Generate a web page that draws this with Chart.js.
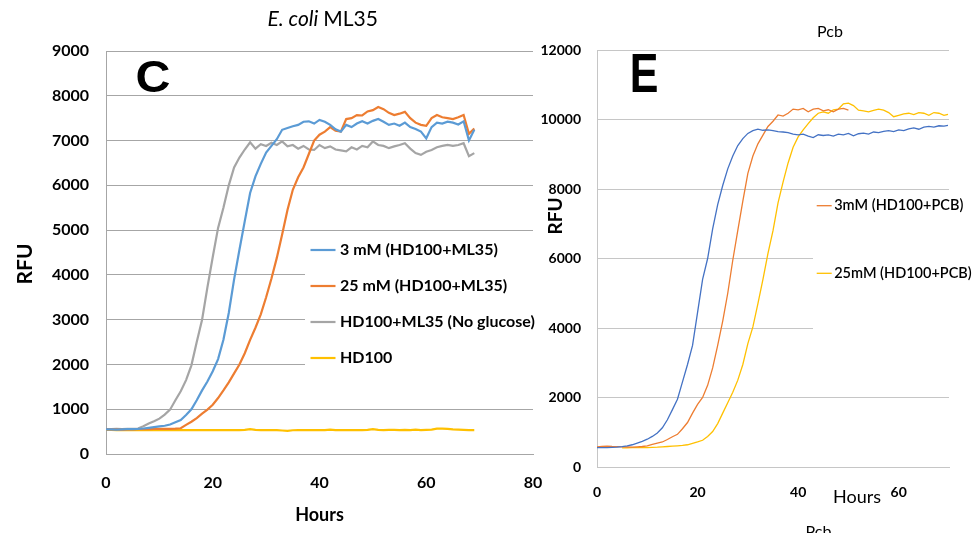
<!DOCTYPE html>
<html>
<head>
<meta charset="utf-8">
<script src="https://cdn.jsdelivr.net/npm/chart.js@4.4.1/dist/chart.umd.min.js"></script>
<style>
  html, body { margin: 0; padding: 0; background: #fff; }
  body { width: 975px; height: 533px; position: relative; overflow: hidden; }
  #ecoli { position: absolute; left: 0; top: 0; width: 562px; height: 533px; }
  #pcb { position: absolute; left: 530px; top: 0; width: 445px; height: 533px; }
</style>
</head>
<body>
<canvas id="ecoli" width="562" height="533"></canvas>
<canvas id="pcb" width="445" height="533"></canvas>
<script>
// ---- panel C : E. coli ML35 ----
const ecoliHours = [
  0, 1, 2, 3, 4, 5, 6, 7, 8, 9, 10, 11, 12, 13, 14, 15, 16, 17, 18, 19,
  20, 21, 22, 23, 24, 25, 26, 27, 28, 29, 30, 31, 32, 33, 34, 35, 36, 37, 38, 39,
  40, 41, 42, 43, 44, 45, 46, 47, 48, 49, 50, 51, 52, 53, 54, 55, 56, 57, 58, 59,
  60, 61, 62, 63, 64, 65, 66, 67, 68, 69
];
const ecoliLabels = ['3 mM (HD100+ML35)', '25 mM (HD100+ML35)', 'HD100+ML35 (No glucose)', 'HD100'];
const ecoli3mM = [
  550, 550, 545, 550, 555, 555, 560, 570, 585, 600,
  615, 630, 660, 710, 760, 870, 1000, 1200, 1420, 1620,
  1850, 2120, 2550, 3150, 3900, 4560, 5200, 5830, 6200, 6480,
  6730, 6880, 7030, 7240, 7280, 7320, 7350, 7420, 7430, 7380,
  7460, 7420, 7350, 7250, 7200, 7350, 7300, 7380, 7430, 7380,
  7440, 7480, 7420, 7350, 7380, 7330, 7400, 7300, 7260, 7200,
  7050, 7300, 7400, 7380, 7420, 7400, 7360, 7430, 7000, 7240
];
const ecoli25mM = [
  550, 550, 550, 545, 550, 550, 555, 555, 555, 560,
  560, 560, 560, 565, 575, 650, 720, 800, 900, 990,
  1100, 1250, 1420, 1600, 1800, 2000, 2250, 2550, 2820, 3120,
  3500, 3920, 4380, 4900, 5450, 5900, 6180, 6400, 6700, 7000,
  7130, 7200, 7300, 7220, 7200, 7480, 7500, 7570, 7560, 7650,
  7680, 7750, 7700, 7620, 7570, 7600, 7640, 7500, 7400, 7350,
  7330, 7500, 7570, 7520, 7500, 7480, 7520, 7570, 7150, 7270
];
const ecoliNoGlucose = [
  555, 555, 560, 555, 560, 560, 570, 620, 680, 730,
  790, 880, 990, 1200, 1400, 1650, 1980, 2500, 3000, 3720,
  4400, 5050, 5500, 6000, 6400, 6620, 6800, 6960, 6820, 6920,
  6880, 6950, 6900, 6980, 6870, 6900, 6820, 6880, 6800, 6790,
  6900, 6830, 6870, 6800, 6780, 6760, 6850, 6800, 6880, 6850,
  6980, 6900, 6880, 6830, 6870, 6900, 6940, 6820, 6720, 6680,
  6750, 6790, 6850, 6880, 6905, 6880, 6900, 6940, 6650, 6720
];
const ecoliHD100 = [
  540, 540, 535, 540, 535, 535, 535, 535, 540, 535,
  535, 535, 535, 535, 535, 535, 535, 535, 535, 535,
  535, 535, 535, 535, 535, 535, 540, 555, 540, 535,
  535, 535, 535, 525, 515, 530, 535, 535, 535, 535,
  535, 535, 545, 535, 535, 535, 535, 535, 535, 540,
  555, 540, 535, 540, 540, 535, 540, 535, 545, 535,
  540, 545, 565, 565, 560, 550, 545, 540, 535, 535
];
const ecoliXTicks = [0, 20, 40, 60, 80];
const ecoliYTicks = [0, 1000, 2000, 3000, 4000, 5000, 6000, 7000, 8000, 9000];

// ---- panel E : Pcb ----
const pcbHours = [
  0, 1, 2, 3, 4, 5, 6, 7, 8, 9, 10, 11, 12, 13, 14, 15, 16, 17, 18, 19,
  20, 21, 22, 23, 24, 25, 26, 27, 28, 29, 30, 31, 32, 33, 34, 35, 36, 37, 38, 39,
  40, 41, 42, 43, 44, 45, 46, 47, 48, 49, 50, 51, 52, 53, 54, 55, 56, 57, 58, 59,
  60, 61, 62, 63, 64, 65, 66, 67, 68, 69, 69.8
];
const pcbLabels = ['Pcb', '3mM (HD100+PCB)', '25mM (HD100+PCB)'];
const pcbControl = [
  560, 560, 560, 565, 570, 585, 610, 640, 690, 740,
  800, 880, 980, 1130, 1360, 1650, 1950, 2450, 2950, 3500,
  4450, 5400, 6000, 6850, 7550, 8100, 8580, 8950, 9250, 9450,
  9600, 9680, 9720, 9690, 9700, 9680, 9650, 9640, 9620, 9580,
  9560, 9580, 9520, 9480, 9560, 9540, 9560, 9520, 9580, 9560,
  9600, 9530, 9590, 9610, 9580, 9640, 9620, 9660, 9680, 9650,
  9700, 9680, 9730, 9760, 9720, 9780, 9800, 9780, 9820, 9810, 9830
];
const pcb3mM = [
  580, 590, 600, 590, 585, 580, 575, 570, 580, 590,
  610, 650, 690, 720, 790, 870, 940, 1100, 1280, 1550,
  1800, 2000, 2350, 2850, 3500, 4200, 5000, 5950, 6810, 7650,
  8450, 8950, 9300, 9550, 9800, 9950, 10130, 10100, 10180, 10300,
  10280, 10320, 10220, 10300, 10320, 10250, 10280, 10220, 10300, 10320,
  10270, null, null, null, null, null, null, null, null, null,
  null, null, null, null, null, null, null, null, null, null, null
];
const pcb25mM = [
  null, null, null, null, null, 550, 550, 555, 560, 560,
  560, 565, 570, 580, 590, 600, 610, 620, 640, 680,
  720, 770, 880, 1020, 1250, 1550, 1850, 2150, 2500, 2950,
  3550, 4030, 4700, 5400, 6150, 6800, 7600, 8200, 8750, 9200,
  9500, 9700, 9880, 10050, 10180, 10220, 10180, 10280, 10300, 10450,
  10470, 10400, 10270, 10250, 10220, 10260, 10300, 10270, 10200, 10080,
  10120, 10160, 10180, 10140, 10200, 10180, 10120, 10200, 10180, 10120, 10150
];
const pcbXTicks = [0, 20, 40, 60];
const pcbXMax = 70;
const pcbYTicks = [0, 2000, 4000, 6000, 8000, 10000, 12000];

Chart.defaults.font.family = 'Lato, "Liberation Sans", sans-serif';
Chart.defaults.color = '#000';

const pts = (xs, ys) => xs.map((x, i) => ({ x: x, y: ys[i] }));

// draws panel letters, titles, free-standing labels and the in-plot legend
function decor(cfg) {
  return {
    id: 'decor',
    beforeDatasetsDraw(chart) {
      const c = chart.ctx, b = cfg.box;
      c.save();
      c.fillStyle = '#fff';
      c.fillRect(b.x, b.y, b.w, b.h);
      c.restore();
    },
    afterDraw(chart) {
      const c = chart.ctx;
      cfg.texts.forEach(t => {
        c.save();
        c.translate(t.x, t.y);
        if (t.rot) c.rotate(t.rot);
        c.scale(t.sx || 1, t.sy || 1);
        c.fillStyle = '#000';
        c.textBaseline = t.base || 'middle';
        if (t.parts) {
          let w = 0;
          t.parts.forEach(p => { c.font = p[1]; w += c.measureText(p[0]).width; });
          let x = -w / 2;
          c.textAlign = 'left';
          t.parts.forEach(p => { c.font = p[1]; c.fillText(p[0], x, 0); x += c.measureText(p[0]).width; });
        } else {
          c.font = t.font;
          c.textAlign = 'center';
          c.fillText(t.text, 0, 0);
        }
        c.restore();
      });
      const L = cfg.legend;
      c.save();
      L.items.forEach((idx, k) => {
        const ds = chart.data.datasets[idx];
        const y = L.y + k * L.dy;
        c.strokeStyle = ds.borderColor;
        c.lineWidth = ds.borderWidth;
        c.beginPath();
        c.moveTo(L.x, y);
        c.lineTo(L.x + L.len, y);
        c.stroke();
        c.font = L.font;
        c.fillStyle = '#000';
        c.textAlign = 'left';
        c.textBaseline = 'middle';
        c.fillText(ds.label, L.x + L.len + L.gap, y);
      });
      c.restore();
    }
  };
}

function line(label, xs, ys, color, width) {
  return {
    label: label,
    data: pts(xs, ys),
    borderColor: color,
    backgroundColor: color,
    borderWidth: width,
    pointRadius: 0,
    tension: 0,
    fill: false
  };
}

const plain = { useGrouping: false };

new Chart(document.getElementById('ecoli'), {
  type: 'line',
  data: {
    datasets: [
      line(ecoliLabels[0], ecoliHours, ecoli3mM, '#5B9BD5', 2.2),
      line(ecoliLabels[1], ecoliHours, ecoli25mM, '#ED7D31', 2.2),
      line(ecoliLabels[2], ecoliHours, ecoliNoGlucose, '#A5A5A5', 2.2),
      line(ecoliLabels[3], ecoliHours, ecoliHD100, '#FFC000', 2.2)
    ]
  },
  options: {
    responsive: false,
    animation: false,
    layout: { padding: { left: 0, top: 51, right: 29, bottom: 0 } },
    plugins: { legend: { display: false }, tooltip: { enabled: false } },
    scales: {
      x: {
        type: 'linear',
        min: ecoliXTicks[0],
        max: ecoliXTicks[ecoliXTicks.length - 1],
        afterFit: s => { s.height = 79; },
        ticks: { stepSize: ecoliXTicks[1] - ecoliXTicks[0], padding: 19, format: plain, font: { size: 16, weight: 'bold' } },
        grid: { display: false, drawTicks: false },
        border: { display: true, color: '#A6A6A6', width: 1 },
        title: { display: true, text: 'Hours', font: { size: 18, weight: 'bold' }, padding: { top: 0, bottom: 7 } }
      },
      y: {
        min: ecoliYTicks[0],
        max: ecoliYTicks[ecoliYTicks.length - 1],
        afterFit: s => { s.width = 106; },
        ticks: { stepSize: ecoliYTicks[1] - ecoliYTicks[0], padding: 17, format: plain, font: { size: 16, weight: 'bold' } },
        grid: { color: '#A6A6A6', lineWidth: 1, drawTicks: false },
        border: { display: true, color: '#A6A6A6', width: 1 }
      }
    }
  },
  plugins: [decor({
    box: { x: 305, y: 237, w: 240, h: 157 },
    legend: { items: [0, 1, 2, 3], x: 310.5, y: 250, dy: 36, len: 25, gap: 4.5, font: 'bold 16px Lato' },
    texts: [
      { parts: [['E. coli ', 'italic 21px Lato'], ['ML35', '21px Lato']], x: 322.7, y: 26, base: 'alphabetic' },
      { text: 'C', font: 'bold 44px "Liberation Sans"', x: 153, y: 91.5, base: 'alphabetic', sx: 1.1 },
      { text: 'RFU', font: 'bold 21px Lato', x: 25, y: 264, rot: -Math.PI / 2 }
    ]
  })]
});

new Chart(document.getElementById('pcb'), {
  type: 'line',
  data: {
    datasets: [
      line(pcbLabels[0], pcbHours, pcbControl, '#4472C4', 1.3),
      line(pcbLabels[1], pcbHours, pcb3mM, '#ED7D31', 1.3),
      line(pcbLabels[2], pcbHours, pcb25mM, '#FFC000', 1.3)
    ]
  },
  options: {
    responsive: false,
    animation: false,
    layout: { padding: { left: 0, top: 50, right: 26, bottom: 0 } },
    plugins: { legend: { display: false }, tooltip: { enabled: false } },
    scales: {
      x: {
        type: 'linear',
        min: pcbXTicks[0],
        max: pcbXMax,
        afterFit: s => { s.height = 66; },
        ticks: { stepSize: pcbXTicks[1] - pcbXTicks[0], includeBounds: false, padding: 17, format: plain, font: { size: 14, weight: 'bold' } },
        grid: { display: false, drawTicks: false },
        border: { display: true, color: '#C6C6C6', width: 1 }
      },
      y: {
        min: pcbYTicks[0],
        max: pcbYTicks[pcbYTicks.length - 1],
        afterFit: s => { s.width = 67; },
        ticks: { stepSize: pcbYTicks[1] - pcbYTicks[0], padding: 16, format: plain, font: { size: 14, weight: 'bold' } },
        grid: { color: '#C6C6C6', lineWidth: 1, drawTicks: false },
        border: { display: true, color: '#C6C6C6', width: 1 }
      }
    }
  },
  plugins: [decor({
    box: { x: 283, y: 193, w: 162, h: 198 },
    legend: { items: [1, 2], x: 286.7, y: 205.7, dy: 67.6, len: 15, gap: 2.5, font: '600 14.5px Lato' },
    texts: [
      { text: 'Pcb', font: '16px Lato', x: 300, y: 31.5 },
      { text: 'E', font: 'bold 43px "Liberation Sans"', x: 114, y: 92, base: 'alphabetic', sy: 1.28 },
      { text: 'RFU', font: 'bold 19px Lato', x: 25.8, y: 216, rot: -Math.PI / 2 },
      { text: 'Hours', font: '18px Lato', x: 327, y: 497.5 },
      { text: 'Pcb', font: '16px Lato', x: 288.5, y: 537, base: 'alphabetic' }
    ]
  })]
});
</script>
</body>
</html>
